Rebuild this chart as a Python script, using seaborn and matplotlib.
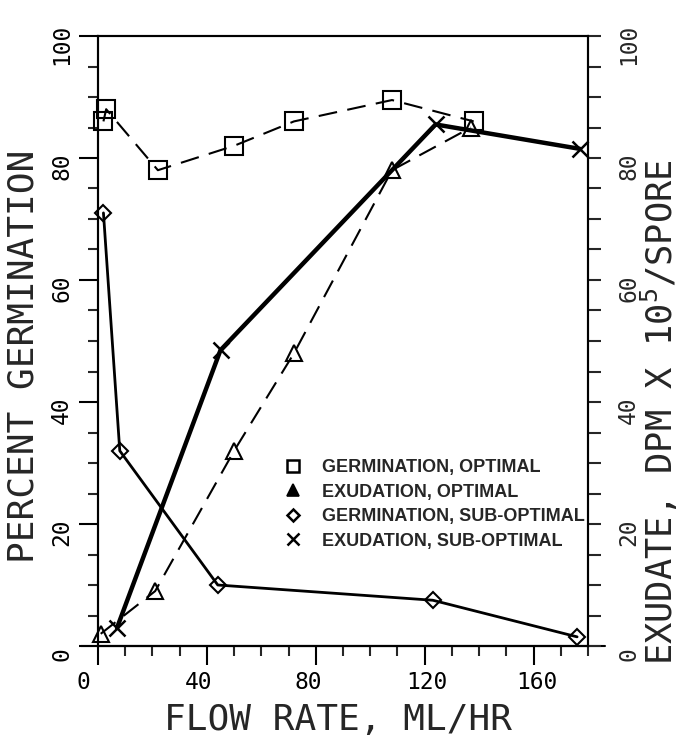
import matplotlib
matplotlib.use('Agg')
import matplotlib.pyplot as plt
import matplotlib.transforms as mtransforms
import seaborn as sns
import pandas as pd
from matplotlib.lines import Line2D
from matplotlib.ticker import MultipleLocator, FixedLocator

# ---- data ----
germ_opt_x = [2, 3, 22, 50, 72, 108, 138]
germ_opt_y = [86, 88, 78, 82, 86, 89.5, 86]
exu_opt_x = [1, 21, 50, 72, 108, 137]
exu_opt_y = [2, 9, 32, 48, 78, 85]
germ_sub_x = [2, 8, 44, 123, 176]
germ_sub_y = [71, 32, 10, 7.5, 1.5]
exu_sub_x = [7, 45, 124, 177]
exu_sub_y = [3, 48.5, 85.5, 81.5]

x_ticks = [0, 40, 80, 120, 160]
y_ticks = [0, 20, 40, 60, 80, 100]
legend_labels = ["GERMINATION, OPTIMAL", "EXUDATION, OPTIMAL",
                 "GERMINATION, SUB-OPTIMAL", "EXUDATION, SUB-OPTIMAL"]
x_label = "FLOW RATE, ML/HR"
y_label = "PERCENT GERMINATION"
y2_label = "EXUDATE, DPM X 10$^{5}$/SPORE"

sns.set_style("ticks")
plt.rcParams['font.family'] = ['DejaVu Sans Mono', 'DejaVu Sans']
plt.rcParams['mathtext.fontset'] = 'custom'
plt.rcParams['mathtext.rm'] = 'DejaVu Sans Mono'
plt.rcParams['mathtext.it'] = 'DejaVu Sans Mono'

W, H = 682, 738
fig = plt.figure(figsize=(W / 100, H / 100), dpi=100)
fig.patch.set_facecolor('white')
ax = fig.add_axes([98 / W, 92 / H, 490 / W, 610 / H])
ax2 = ax.twinx()

df_go = pd.DataFrame({'x': germ_opt_x, 'y': germ_opt_y})
df_eo = pd.DataFrame({'x': exu_opt_x, 'y': exu_opt_y})
df_gs = pd.DataFrame({'x': germ_sub_x, 'y': germ_sub_y})
df_es = pd.DataFrame({'x': exu_sub_x, 'y': exu_sub_y})

common = dict(color='black', markerfacecolor='none', markeredgecolor='black',
              clip_on=False, sort=False)
sns.lineplot(data=df_go, x='x', y='y', ax=ax, marker='s', markersize=12.5,
             markeredgewidth=1.5, linewidth=1.5, **common)
ax.lines[-1].set_dashes([9, 5])
sns.lineplot(data=df_gs, x='x', y='y', ax=ax, marker='D', markersize=8.5,
             markeredgewidth=1.5, linewidth=2.0, **common)
sns.lineplot(data=df_eo, x='x', y='y', ax=ax2, marker='^', markersize=11,
             markeredgewidth=1.5, linewidth=1.5, **common)
ax2.lines[-1].set_dashes([9, 5])
sns.lineplot(data=df_es, x='x', y='y', ax=ax2, marker='x', markersize=12,
             markeredgewidth=1.8, linewidth=3.2, **common)

for a in (ax, ax2):
    a.set_xlim(0, 180)
    a.set_ylim(0, 100)
    a.set_xlabel('')
    a.set_ylabel('')
    for s in a.spines.values():
        s.set_linewidth(1.5)
        s.set_color('black')

# extended bottom axis line
ax.axhline(0, xmin=-17 / 490, xmax=1 + 17 / 490, color='black', lw=1.5, clip_on=False)

ax.xaxis.set_major_locator(FixedLocator(x_ticks))
ax.xaxis.set_minor_locator(MultipleLocator(10))
ax.yaxis.set_major_locator(FixedLocator(y_ticks))
ax.yaxis.set_minor_locator(MultipleLocator(5))
ax2.yaxis.set_major_locator(FixedLocator(y_ticks))
ax2.yaxis.set_minor_locator(MultipleLocator(5))
ax.set_xticklabels([str(t) for t in x_ticks])
ax.set_yticklabels([str(t) for t in y_ticks])
ax2.set_yticklabels([str(t) for t in y_ticks])

ax.tick_params(axis='both', which='major', direction='out', length=14, width=1.5,
               labelsize=16.5, colors='black', pad=4)
ax.tick_params(axis='both', which='minor', direction='out', length=7, width=1.5)
ax.tick_params(axis='y', labelrotation=90, right=False, which='both')
ax.tick_params(axis='x', top=False, which='both')
ax2.tick_params(axis='y', which='major', direction='out', length=9, width=1.5,
                labelsize=16.5, labelrotation=90, pad=12)
ax2.tick_params(axis='y', which='minor', direction='out', length=9, width=1.5)

# small label offsets as in the plotter output
def shift(lab, dx_px, dy_px):
    lab.set_transform(lab.get_transform() +
                      mtransforms.ScaledTranslation(dx_px / 100, dy_px / 100, fig.dpi_scale_trans))

for lab in ax.get_yticklabels() + ax2.get_yticklabels():
    lab.set_va('center')
    shift(lab, 0, -8)
x_dx = [-15, -8, -8, 2, 3]
for lab, dx in zip(ax.get_xticklabels(), x_dx):
    shift(lab, dx, 0)

fig.text(338 / W, 1 - 720 / H, x_label, ha='center', va='center', fontsize=26)
fig.text(24 / W, 1 - 356 / H, y_label, ha='center', va='center', fontsize=26, rotation=90)
fig.text(659 / W, 1 - 412 / H, y2_label, ha='center', va='center', fontsize=25.5, rotation=90)

handles = [
    Line2D([], [], ls='none', marker='s', ms=8, mfc='none', mec='black', mew=1.8, color='black'),
    Line2D([], [], ls='none', marker='^', ms=9, mfc='black', mec='black', mew=1.2, color='black'),
    Line2D([], [], ls='none', marker='D', ms=6, mfc='none', mec='black', mew=1.8, color='black'),
    Line2D([], [], ls='none', marker='x', ms=9, mec='black', mew=1.8, color='black'),
]
leg = ax.legend(handles, legend_labels, loc='upper left',
                bbox_to_anchor=(282 / W, 1 - 459 / H), bbox_transform=fig.transFigure,
                frameon=False, handlelength=1.2, handletextpad=1.0, labelspacing=0.42,
                borderaxespad=0, borderpad=0,
                prop={'family': 'Liberation Sans', 'weight': 'bold', 'size': 13})

fig.savefig('out.png', dpi=100, facecolor='white')
